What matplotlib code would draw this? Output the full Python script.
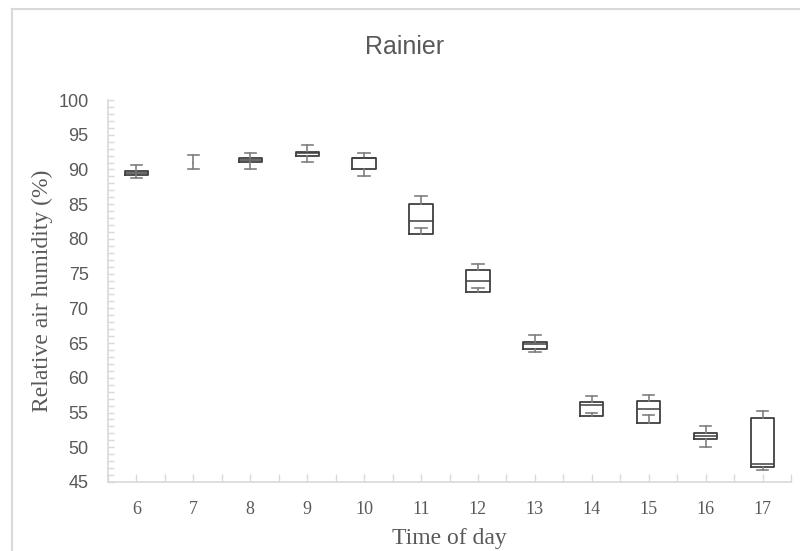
import matplotlib
matplotlib.use("Agg")
import matplotlib.pyplot as plt
from matplotlib.lines import Line2D
from matplotlib.ticker import MultipleLocator

hours = [6, 7, 8, 9, 10, 11, 12, 13, 14, 15, 16, 17]
whislo = [88.7, 90.1, 90.1, 91.1, 89.05, 81.56, 72.9, 63.75, 54.94, 54.6, 50.1, 46.75]
q1 = [89.18, 91.0, 91.06, 92.0, 90.05, 80.66, 72.41, 64.19, 54.45, 53.55, 51.15, 47.18]
med = [89.48, 91.0, 91.38, 92.3, 91.6, 82.61, 73.99, 64.8, 56.03, 55.57, 51.6, 47.66]
q3 = [89.77, 91.0, 91.63, 92.58, 91.63, 85.06, 75.54, 65.18, 56.52, 56.67, 52.11, 54.2]
whishi = [90.66, 92.05, 92.43, 93.5, 92.43, 86.11, 76.35, 66.19, 57.38, 57.53, 53.12, 55.26]
hidden_box = [7]  # hour whose box is not drawn (whiskers only)

W, H = 800, 551
fig = plt.figure(figsize=(W / 100, H / 100), dpi=100)
ax = fig.add_axes([108 / W, 1 - 482 / H, (791 - 108) / W, (482 - 100) / H])

gray_axis = "#d9d9d9"
txt = "#595959"
box_col = "#404040"
whisk_col = "#7f7f7f"

stats_main, pos_main, stats_hid, pos_hid = [], [], [], []
for i, h in enumerate(hours):
    s = dict(whislo=whislo[i], q1=q1[i], med=med[i], q3=q3[i], whishi=whishi[i], fliers=[])
    if h in hidden_box:
        stats_hid.append(s); pos_hid.append(i + 1)
    else:
        stats_main.append(s); pos_main.append(i + 1)

common = dict(widths=0.41, capwidths=0.2, showfliers=False,
              whiskerprops=dict(color=whisk_col, lw=1.2),
              capprops=dict(color=whisk_col, lw=1.2))
ax.bxp(stats_main, positions=pos_main,
       boxprops=dict(color=box_col, lw=1.3),
       medianprops=dict(color=box_col, lw=1.1), **common)
ax.bxp(stats_hid, positions=pos_hid, showbox=False,
       medianprops=dict(lw=0), **common)

ax.set_xlim(0.5, len(hours) + 0.5)
ax.set_ylim(45, 100)
ax.set_xticks(range(1, len(hours) + 1))
ax.set_xticklabels([str(h) for h in hours])
ax.set_xticks([i + 0.5 for i in range(len(hours) + 1)], minor=True)
ax.yaxis.set_major_locator(MultipleLocator(5))
ax.yaxis.set_minor_locator(MultipleLocator(1))

for side in ["top", "right"]:
    ax.spines[side].set_visible(False)
for side in ["left", "bottom"]:
    ax.spines[side].set_color(gray_axis)
    ax.spines[side].set_linewidth(1.2)

ax.tick_params(axis="both", which="both", direction="in", color=gray_axis, width=1)
ax.tick_params(axis="x", which="both", length=6, pad=14)
ax.tick_params(axis="y", which="both", length=4, pad=14)

for lab in ax.get_xticklabels():
    lab.set_fontfamily("Liberation Serif"); lab.set_fontsize(13); lab.set_color(txt)
for lab in ax.get_yticklabels():
    lab.set_fontfamily(["Liberation Sans Narrow", "Liberation Sans"]); lab.set_fontsize(13); lab.set_color(txt)

ax.set_xlabel("Time of day", fontfamily="Liberation Serif", fontsize=17, color=txt, labelpad=7)
ax.set_ylabel("Relative air humidity (%)", fontfamily="Liberation Serif", fontsize=17, color=txt, labelpad=4)

fig.text(405 / W, 1 - 47 / H, "Rainier", ha="center", va="center",
         fontfamily=["Liberation Sans Narrow", "Liberation Sans"], fontsize=18, color=txt)

fig.add_artist(Line2D([12 / W, 12 / W], [0, 1 - 9 / H], transform=fig.transFigure, color=gray_axis, lw=1.5))
fig.add_artist(Line2D([12 / W, 1], [1 - 9 / H, 1 - 9 / H], transform=fig.transFigure, color=gray_axis, lw=1.5))

fig.savefig("out.png", dpi=100)
